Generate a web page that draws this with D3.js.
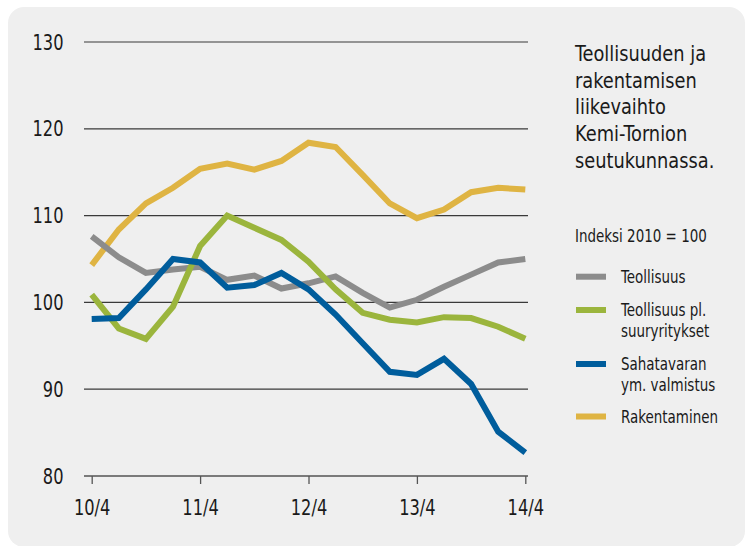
<!DOCTYPE html>
<html>
<head>
<meta charset="utf-8">
<script src="https://cdn.jsdelivr.net/npm/d3@7"></script>
<style>
  body { margin: 0; background: #fff; }
  svg text { font-family: "DejaVu Sans Condensed", "Liberation Sans Narrow", sans-serif; fill: #1a1a1a; }
</style>
</head>
<body>
<div id="chart"></div>
<script>
// quarters 10/4 ... 14/4
var quarters = ["10/4","11/1","11/2","11/3","11/4","12/1","12/2","12/3","12/4","13/1","13/2","13/3","13/4","14/1","14/2","14/3","14/4"];
var tickLabels = ["10/4","11/4","12/4","13/4","14/4"];
var yTicks = [80, 90, 100, 110, 120, 130];

var teollisuus   = [107.6,105.2,103.4,103.8,104.1,102.6,103.1,101.6,102.2,103.0,101.1,99.4,100.3,101.8,103.2,104.6,105.0];
var teollisuusPl = [100.9,97.0,95.8,99.5,106.5,110.0,108.6,107.2,104.7,101.5,98.8,98.0,97.7,98.3,98.2,97.2,95.8];
var sahatavara   = [98.1,98.2,101.5,105.0,104.6,101.7,102.0,103.4,101.5,98.6,95.3,92.0,91.65,93.5,90.6,85.1,82.7];
var rakentaminen = [104.3,108.4,111.4,113.2,115.4,116.0,115.3,116.3,118.4,117.9,114.7,111.4,109.7,110.7,112.7,113.2,113.0];

var series = [
  {name: ["Teollisuus"], values: teollisuus, color: "#8c8c8c"},
  {name: ["Teollisuus pl.", "suuryritykset"], values: teollisuusPl, color: "#9bb53d"},
  {name: ["Sahatavaran", "ym. valmistus"], values: sahatavara, color: "#005d9c"},
  {name: ["Rakentaminen"], values: rakentaminen, color: "#dfb443"}
];
var drawOrder = [3, 0, 1, 2];

var title = ["Teollisuuden ja", "rakentamisen", "liikevaihto", "Kemi-Tornion", "seutukunnassa."];
var subtitle = "Indeksi 2010 = 100";

var W = 747, H = 546;
var svg = d3.select("#chart").append("svg").attr("width", W).attr("height", H);

// narrow text: the original uses a condensed face
function narrow(sel, px, py, sx) {
  sel.attr("x", 0).attr("y", 0)
     .attr("transform", function(d, i) {
       return "translate(" + px(d, i) + "," + py(d, i) + ") scale(" + sx + ",1)";
     });
}

svg.append("rect")
    .attr("x", 8).attr("y", 7).attr("width", W - 10).attr("height", H - 6)
    .attr("rx", 16).attr("fill", "#efefef");

var x = d3.scaleLinear().domain([0, quarters.length - 1]).range([91.7, 525.3]);
var y = d3.scaleLinear().domain([80, 130]).range([476, 42]);

// gridlines
svg.append("g").selectAll("line")
    .data(yTicks.filter(function(d) { return d > 80; }))
  .enter().append("line")
    .attr("x1", 84).attr("x2", 528)
    .attr("y1", function(d) { return y(d); })
    .attr("y2", function(d) { return y(d); })
    .attr("stroke", "#3a3a3a").attr("stroke-width", 1.2);

// y labels
svg.append("g").selectAll("text")
    .data(yTicks)
  .enter().append("text")
    .call(narrow, function() { return 63.5; }, function(d) { return y(d); }, 0.86)
    .attr("dy", "0.36em")
    .attr("text-anchor", "end")
    .attr("font-size", 21)
    .text(function(d) { return d; });

// x axis
var xAxis = d3.axisBottom(x)
    .tickValues(tickLabels.map(function(t) { return quarters.indexOf(t); }))
    .tickFormat(function(i) { return quarters[i]; })
    .tickSize(8).tickPadding(14);

var ax = svg.append("g").attr("transform", "translate(0," + y(80) + ")").call(xAxis);
ax.select(".domain").attr("d", "M84,0H528").attr("stroke", "#7a7a7a").attr("stroke-width", 2.2);
ax.selectAll(".tick line").attr("stroke", "#555").attr("stroke-width", 1.3);
ax.selectAll(".tick text")
    .attr("transform", "translate(0,31) scale(0.86,1)").attr("y", 0).attr("dy", "0.36em")
    .attr("font-size", 21).attr("fill", "#1a1a1a")
    .style("font-family", "\"DejaVu Sans Condensed\", sans-serif");

// lines
var line = d3.line()
    .x(function(d, i) { return x(i); })
    .y(function(d) { return y(d); });

svg.append("g").selectAll("path")
    .data(drawOrder.map(function(k) { return series[k]; }))
  .enter().append("path")
    .attr("d", function(d) { return line(d.values); })
    .attr("fill", "none")
    .attr("stroke", function(d) { return d.color; })
    .attr("stroke-width", 6)
    .attr("stroke-linejoin", "miter");

// title
svg.append("g").selectAll("text")
    .data(title)
  .enter().append("text")
    .call(narrow, function() { return 575; }, function(d, i) { return 53 + i * 26.7; }, 0.9)
    .attr("dy", "0.36em")
    .attr("font-size", 22)
    .text(function(d) { return d; });

svg.append("text")
    .datum(subtitle)
    .call(narrow, function() { return 575; }, function() { return 236; }, 0.88)
    .attr("dy", "0.36em")
    .attr("font-size", 17)
    .text(subtitle);

// legend
var legendY = [276.7, 310, 364, 416.5];
var leg = svg.append("g").selectAll("g")
    .data(series)
  .enter().append("g")
    .attr("transform", function(d, i) { return "translate(0," + legendY[i] + ")"; });

leg.append("rect")
    .attr("x", 576).attr("y", -3).attr("width", 30).attr("height", 6)
    .attr("fill", function(d) { return d.color; });

leg.each(function(d) {
  d3.select(this).selectAll("text")
      .data(d.name)
    .enter().append("text")
      .call(narrow, function() { return 621; }, function(t, j) { return j * 21; }, 0.88)
      .attr("dy", "0.36em")
      .attr("font-size", 17)
      .text(function(t) { return t; });
});
</script>
</body>
</html>
